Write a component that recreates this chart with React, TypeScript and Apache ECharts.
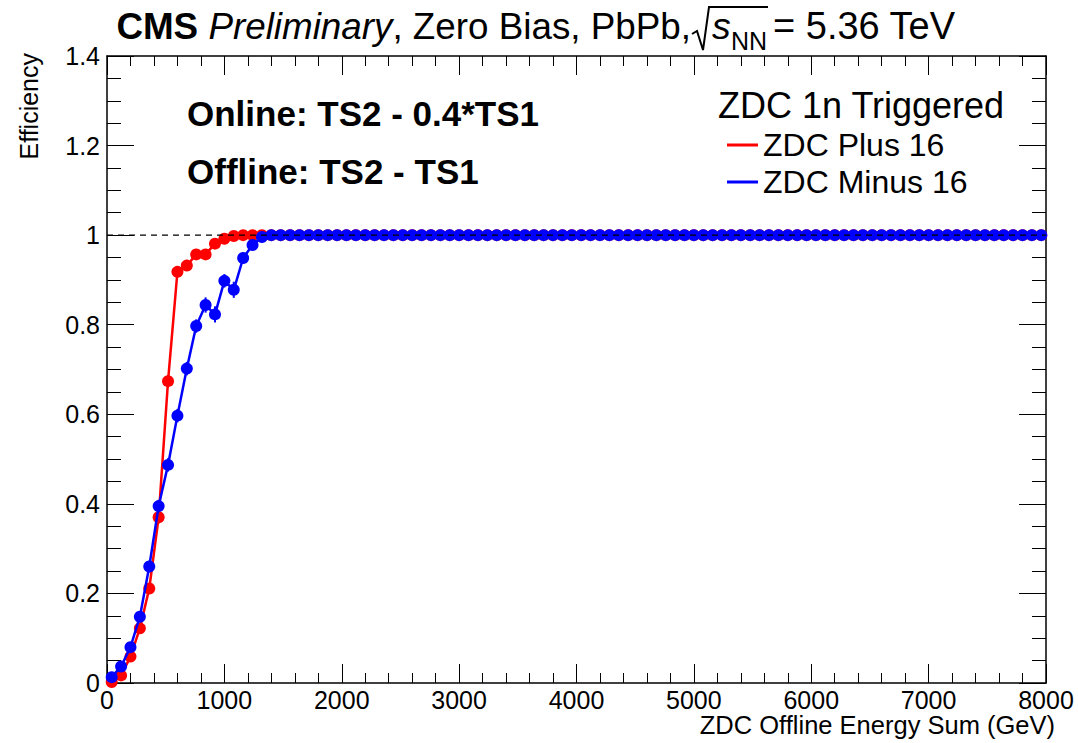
import React, { useEffect, useRef } from "react";
import * as echarts from "echarts";

const FONT = "'Liberation Sans', Arial, Helvetica, sans-serif";

// Bin centres (GeV) of the ZDC offline energy sum histogram (80 GeV bins)
const binCenters = [
  40, 120, 200, 280, 360, 440, 520, 600, 680, 760,
  840, 920, 1000, 1080, 1160, 1240, 1320, 1400, 1480, 1560,
  1640, 1720, 1800, 1880, 1960, 2040, 2120, 2200, 2280, 2360,
  2440, 2520, 2600, 2680, 2760, 2840, 2920, 3000, 3080, 3160,
  3240, 3320, 3400, 3480, 3560, 3640, 3720, 3800, 3880, 3960,
  4040, 4120, 4200, 4280, 4360, 4440, 4520, 4600, 4680, 4760,
  4840, 4920, 5000, 5080, 5160, 5240, 5320, 5400, 5480, 5560,
  5640, 5720, 5800, 5880, 5960, 6040, 6120, 6200, 6280, 6360,
  6440, 6520, 6600, 6680, 6760, 6840, 6920, 7000, 7080, 7160,
  7240, 7320, 7400, 7480, 7560, 7640, 7720, 7800, 7880, 7960,
];

// ZDC Plus 16 efficiency
const plusEff = [
  0.002, 0.017, 0.059, 0.122, 0.211, 0.37, 0.674, 0.918, 0.932, 0.957,
  0.957, 0.981, 0.992, 0.998, 1, 1, 1, 1, 1, 1,
  1, 1, 1, 1, 1, 1, 1, 1, 1, 1,
  1, 1, 1, 1, 1, 1, 1, 1, 1, 1,
  1, 1, 1, 1, 1, 1, 1, 1, 1, 1,
  1, 1, 1, 1, 1, 1, 1, 1, 1, 1,
  1, 1, 1, 1, 1, 1, 1, 1, 1, 1,
  1, 1, 1, 1, 1, 1, 1, 1, 1, 1,
  1, 1, 1, 1, 1, 1, 1, 1, 1, 1,
  1, 1, 1, 1, 1, 1, 1, 1, 1, 1,
];

// ZDC Minus 16 efficiency
const minusEff = [
  0.013, 0.037, 0.08, 0.148, 0.26, 0.395, 0.487, 0.597, 0.702, 0.797,
  0.844, 0.823, 0.898, 0.878, 0.949, 0.978, 0.996, 1, 1, 1,
  1, 1, 1, 1, 1, 1, 1, 1, 1, 1,
  1, 1, 1, 1, 1, 1, 1, 1, 1, 1,
  1, 1, 1, 1, 1, 1, 1, 1, 1, 1,
  1, 1, 1, 1, 1, 1, 1, 1, 1, 1,
  1, 1, 1, 1, 1, 1, 1, 1, 1, 1,
  1, 1, 1, 1, 1, 1, 1, 1, 1, 1,
  1, 1, 1, 1, 1, 1, 1, 1, 1, 1,
  1, 1, 1, 1, 1, 1, 1, 1, 1, 1,
];

// Statistical uncertainties (only visible in the turn-on region)
const plusErr = [0.002, 0.004, 0.007, 0.01, 0.012, 0.014, 0.014, 0.01, 0.009, 0.008, 0.008, 0.006, 0.004, 0.002];
const minusErr = [0.004, 0.006, 0.008, 0.011, 0.013, 0.014, 0.015, 0.015, 0.015, 0.015, 0.017, 0.018, 0.015, 0.018, 0.012, 0.008, 0.004];

// Reference line at efficiency = 1
const refLine = [[0, 1], [8000, 1]];

const RED = "#ff0000";
const BLUE = "#0000ff";
const TITLE_SIZE = 36.8;

function zip(xs: number[], ys: number[]) {
  return ys.map((y, i) => [xs[i], y]);
}
function errData(xs: number[], ys: number[], es: number[]) {
  return es.map((e, i) => [xs[i], ys[i], e]);
}
function errSeries(name: string, data: number[][], color: string, z: number) {
  return {
    type: "custom",
    name,
    data,
    z,
    silent: true,
    encode: { x: 0, y: 1 },
    renderItem: (params: any, api: any) => {
      const x = api.value(0);
      const y = api.value(1);
      const e = api.value(2);
      const p1 = api.coord([x, y - e]);
      const p2 = api.coord([x, y + e]);
      return {
        type: "line",
        shape: { x1: p1[0], y1: p1[1], x2: p2[0], y2: p2[1] },
        style: { stroke: color, lineWidth: 2 },
      };
    },
  };
}

const axisLineStyle = { color: "#000", width: 1.5 };

export default function App() {
  const ref = useRef<HTMLDivElement>(null);
  useEffect(() => {
    const chart = echarts.init(ref.current!, null, { renderer: "svg" });
    const baseX = {
      type: "value",
      min: 0,
      max: 8000,
      interval: 1000,
      axisLine: { show: true, onZero: false, lineStyle: axisLineStyle },
      axisTick: { show: true, inside: true, length: 19, lineStyle: { color: "#000", width: 1 } },
      minorTick: { show: true, splitNumber: 5, length: 10, lineStyle: { color: "#000", width: 1 } },
      splitLine: { show: false },
      minorSplitLine: { show: false },
    };
    const baseY = {
      type: "value",
      min: 0,
      max: 1.4,
      interval: 0.2,
      axisLine: { show: true, onZero: false, lineStyle: axisLineStyle },
      axisTick: { show: true, inside: true, length: 27, lineStyle: { color: "#000", width: 1 } },
      minorTick: { show: true, splitNumber: 4, length: 14, lineStyle: { color: "#000", width: 1 } },
      splitLine: { show: false },
      minorSplitLine: { show: false },
    };
    const option: any = {
      animation: false,
      backgroundColor: "#fff",
      grid: { left: 107, right: 32, top: 56, bottom: 60, containLabel: false },
      xAxis: [
        {
          ...baseX,
          position: "bottom",
          axisLabel: {
            show: true,
            fontSize: 25,
            color: "#000",
            margin: 4,
            fontFamily: FONT,
            formatter: (v: number) => String(v),
          },
        },
        { ...baseX, position: "top", axisLabel: { show: false } },
      ],
      yAxis: [
        {
          ...baseY,
          position: "left",
          axisLabel: { show: true, fontSize: 25, color: "#000", margin: 7, fontFamily: FONT },
        },
        { ...baseY, position: "right", axisLabel: { show: false } },
      ],
      legend: {
        data: ["ZDC Plus 16", "ZDC Minus 16"],
        orient: "vertical",
        left: 727,
        top: 127,
        padding: 0,
        icon: "rect",
        itemWidth: 31,
        itemHeight: 3,
        itemGap: 1,
        selectedMode: false,
        textStyle: { fontSize: 32, color: "#000", fontFamily: FONT, lineHeight: 36 },
      },
      series: [
        {
          type: "line",
          name: "ZDC Plus 16",
          data: zip(binCenters, plusEff),
          symbol: "circle",
          symbolSize: 12,
          showSymbol: true,
          lineStyle: { color: RED, width: 2.5 },
          itemStyle: { color: RED },
          z: 2,
        },
        errSeries("plusErr", errData(binCenters, plusEff, plusErr), RED, 2),
        {
          type: "line",
          name: "ZDC Minus 16",
          data: zip(binCenters, minusEff),
          symbol: "circle",
          symbolSize: 12,
          showSymbol: true,
          lineStyle: { color: BLUE, width: 2.5 },
          itemStyle: { color: BLUE },
          z: 3,
        },
        errSeries("minusErr", errData(binCenters, minusEff, minusErr), BLUE, 3),
        {
          type: "line",
          name: "ref",
          data: refLine,
          symbol: "none",
          silent: true,
          lineStyle: { color: "#000", width: 1.2, type: [6, 5] },
          z: 5,
        },
      ],
      graphic: [
        {
          type: "text",
          x: 691,
          y: 26,
          style: {
            text: "{b|CMS} {i|Preliminary}, Zero Bias, PbPb,",
            fill: "#000",
            fontSize: TITLE_SIZE,
            fontFamily: FONT,
            align: "right",
            verticalAlign: "middle",
            rich: {
              b: { fontWeight: "bold", fontSize: TITLE_SIZE, fontFamily: FONT, fill: "#000" },
              i: { fontStyle: "italic", fontSize: TITLE_SIZE, fontFamily: FONT, fill: "#000" },
            },
          },
        },
        {
          type: "polyline",
          shape: { points: [[692, 34], [697, 31], [703, 50], [709, 7], [768, 7]] },
          style: { stroke: "#000", lineWidth: 2, fill: "none" },
        },
        {
          type: "text",
          x: 712,
          y: 26,
          style: {
            text: "s",
            fill: "#000",
            fontSize: 37.5,
            fontStyle: "italic",
            fontFamily: FONT,
            align: "left",
            verticalAlign: "middle",
          },
        },
        {
          type: "text",
          x: 731,
          y: 41,
          style: {
            text: "NN",
            fill: "#000",
            fontSize: 25,
            fontFamily: FONT,
            align: "left",
            verticalAlign: "middle",
          },
        },
        {
          type: "text",
          x: 773,
          y: 26,
          style: {
            text: "= 5.36 TeV",
            fill: "#000",
            fontSize: 38,
            fontFamily: FONT,
            align: "left",
            verticalAlign: "middle",
          },
        },
        {
          type: "text",
          x: 187,
          y: 113,
          style: {
            text: "Online: TS2 - 0.4*TS1",
            fill: "#000",
            fontSize: 35,
            fontWeight: "bold",
            fontFamily: FONT,
            align: "left",
            verticalAlign: "middle",
          },
        },
        {
          type: "text",
          x: 187,
          y: 171,
          style: {
            text: "Offline: TS2 - TS1",
            fill: "#000",
            fontSize: 35,
            fontWeight: "bold",
            fontFamily: FONT,
            align: "left",
            verticalAlign: "middle",
          },
        },
        {
          type: "text",
          x: 718,
          y: 105,
          style: {
            text: "ZDC 1n Triggered",
            fill: "#000",
            fontSize: 36,
            fontFamily: FONT,
            align: "left",
            verticalAlign: "middle",
          },
        },
        {
          type: "text",
          x: 1055,
          y: 725,
          style: {
            text: "ZDC Offline Energy Sum (GeV)",
            fill: "#000",
            fontSize: 25.5,
            fontFamily: FONT,
            align: "right",
            verticalAlign: "middle",
          },
        },
        {
          type: "text",
          x: 29,
          y: 53,
          rotation: Math.PI / 2,
          style: {
            text: "Efficiency",
            fill: "#000",
            fontSize: 25,
            fontFamily: FONT,
            align: "right",
            verticalAlign: "middle",
          },
        },
      ],
    };
    chart.setOption(option);
    return () => chart.dispose();
  }, []);
  return (
    <div
      ref={ref}
      style={{ position: "absolute", left: 0, top: 0, width: 1078, height: 743, background: "#fff" }}
    />
  );
}
